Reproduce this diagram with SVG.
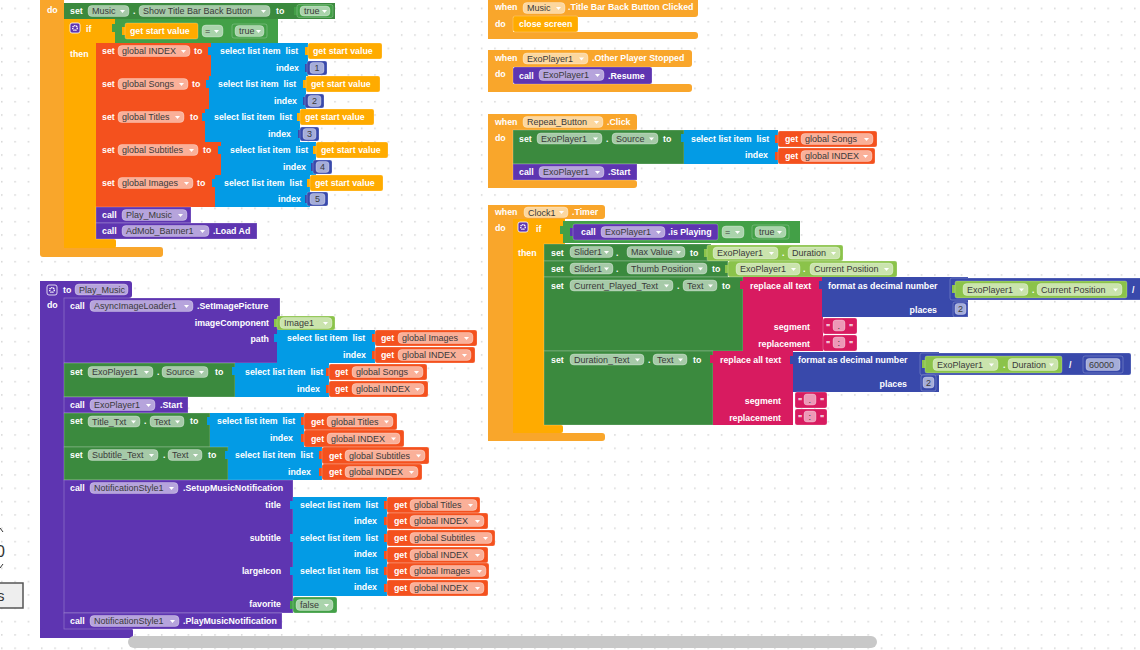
<svg xmlns="http://www.w3.org/2000/svg" width="1140" height="650" viewBox="0 0 1140 650">
<style>
.ev{fill:#F9A62B}.ct{fill:#FFAB00}.st{fill:#3B8A3E}.lg{fill:#43A047}.gt{fill:#8BC34A}.vr{fill:#F4511E}.ls{fill:#039BE5}.mt{fill:#3949AB}.tx{fill:#D81B60}.pr{fill:#5E35B1}
.nb{stroke:#fff;stroke-opacity:.28;stroke-width:.8}
.pl{fill:#fff;fill-opacity:.55;stroke:#fff;stroke-opacity:.4;stroke-width:.7}
text{font-family:"Liberation Sans",Arial,sans-serif;font-size:9px}
.w{fill:#fff;font-weight:bold;font-size:8.8px}
.d{fill:#3a3a3a}
.e{text-anchor:end}
</style>
<defs>
<pattern id="grid" width="13.33" height="13.33" patternUnits="userSpaceOnUse" x="1" y="7.6"><circle cx="0.8" cy="0.8" r="0.8" fill="#cfcfcf"/></pattern>
<path id="ar" d="M0,0h5l-2.5,3z" fill="#fff"/>
<g id="gear"><rect width="10" height="10" rx="2" fill="#5E35B1" stroke="#fff" stroke-width=".8"/><circle cx="5" cy="5" r="2.3" fill="none" stroke="#fff" stroke-width="1.4" stroke-dasharray="1.2 .6"/></g>
</defs>
<rect width="1140" height="650" fill="#fff"/>
<rect width="1140" height="650" fill="url(#grid)"/>

<g id="evt-music-init">
<rect class="ev" x="40" y="-6" width="24" height="258"/>
<rect class="ev" x="40" y="247" width="123" height="10" rx="3"/>
<text class="w" x="47" y="13">do</text>
<g id="set-backbutton">
<rect class="st" x="64" y="3" width="271" height="16"/>
<text class="w" x="70" y="14">set</text>
<rect class="pl" x="88" y="5.5" width="41" height="11" rx="4"/><text class="d" x="92" y="14">Music</text><use href="#ar" x="120" y="10"/>
<text class="w" x="133" y="14">.</text>
<rect class="pl" x="139" y="5.5" width="131" height="11" rx="4"/><text class="d" x="143" y="14">Show Title Bar Back Button</text><use href="#ar" x="261" y="10"/>
<text class="w" x="276" y="14">to</text>
<rect class="lg" x="294" y="7" width="4" height="8"/>
<rect class="lg nb" x="297" y="4.5" width="36" height="13" rx="2"/>
<rect class="pl" x="300" y="6" width="30" height="10" rx="4"/><text class="d" x="304" y="14">true</text><use href="#ar" x="322" y="10"/>
</g>
<g id="if-start">
<rect class="ct" x="64" y="19" width="32" height="229"/>
<rect class="ct" x="64" y="19" width="54" height="24"/>
<rect class="ct" x="64" y="239" width="52" height="9" rx="2"/>
<use href="#gear" x="70" y="23"/>
<text class="w" x="86" y="32">if</text>
<text class="w" x="70" y="57">then</text>
<rect class="lg" x="112" y="24" width="4" height="8"/>
<rect class="lg" x="115" y="19" width="163" height="24"/>
<rect class="ct" x="122" y="27" width="4" height="8"/>
<rect class="ct nb" x="125" y="23" width="73" height="16" rx="2"/><text class="w" x="130" y="34">get start value</text>
<rect class="pl" x="202" y="25" width="21" height="12" rx="4"/><text class="d" x="205" y="34">=</text><use href="#ar" x="214" y="30"/>
<rect class="lg nb" x="232" y="24" width="35" height="14" rx="2"/><rect class="pl" x="235" y="25.5" width="29" height="11" rx="4"/><text class="d" x="239" y="34">true</text><use href="#ar" x="256" y="30"/>
</g>
<g id="set-index">
<rect class="vr" x="96" y="43" width="115" height="33"/>
<text class="w" x="102" y="54">set</text>
<rect class="pl" x="118" y="45.5" width="72" height="11" rx="4"/><text class="d" x="122" y="54">global INDEX</text><use href="#ar" x="181" y="50"/>
<text class="w" x="194" y="54">to</text>
<rect class="ls" x="208" y="47" width="4" height="8"/><rect class="ls" x="211" y="43" width="97" height="33"/>
<text class="w" x="220" y="54" xml:space="preserve">select list item  list</text>
<text class="w e" x="299" y="71">index</text>
<rect class="ct" x="305" y="47" width="4" height="8"/><rect class="ct nb" x="308" y="43" width="74" height="16" rx="2"/><text class="w" x="313" y="54">get start value</text>
<rect class="mt" x="305" y="64" width="4" height="8"/><rect class="mt nb" x="307" y="61" width="20" height="14" rx="2"/><rect class="pl" x="310" y="62.5" width="14" height="11" rx="3"/><text class="d" x="314.5" y="71">1</text>
</g>
<g id="set-songs">
<rect class="vr" x="96" y="76" width="113" height="33"/>
<text class="w" x="102" y="87">set</text>
<rect class="pl" x="118" y="78.5" width="70" height="11" rx="4"/><text class="d" x="122" y="87">global Songs</text><use href="#ar" x="179" y="83"/>
<text class="w" x="192" y="87">to</text>
<rect class="ls" x="206" y="80" width="4" height="8"/><rect class="ls" x="209" y="76" width="97" height="33"/>
<text class="w" x="218" y="87" xml:space="preserve">select list item  list</text>
<text class="w e" x="297" y="104">index</text>
<rect class="ct" x="303" y="80" width="4" height="8"/><rect class="ct nb" x="306" y="76" width="74" height="16" rx="2"/><text class="w" x="311" y="87">get start value</text>
<rect class="mt" x="303" y="97" width="4" height="8"/><rect class="mt nb" x="305" y="94" width="19" height="14" rx="2"/><rect class="pl" x="308" y="95.5" width="13" height="11" rx="3"/><text class="d" x="312" y="104">2</text>
</g>
<g id="set-titles">
<rect class="vr" x="96" y="109" width="109" height="33"/>
<text class="w" x="102" y="120">set</text>
<rect class="pl" x="118" y="111.5" width="66" height="11" rx="4"/><text class="d" x="122" y="120">global Titles</text><use href="#ar" x="175" y="116"/>
<text class="w" x="190" y="120">to</text>
<rect class="ls" x="202" y="113" width="4" height="8"/><rect class="ls" x="205" y="109" width="95" height="33"/>
<text class="w" x="214" y="120" xml:space="preserve">select list item  list</text>
<text class="w e" x="291" y="137">index</text>
<rect class="ct" x="297" y="113" width="4" height="8"/><rect class="ct nb" x="300" y="109" width="74" height="16" rx="2"/><text class="w" x="305" y="120">get start value</text>
<rect class="mt" x="298" y="130" width="4" height="8"/><rect class="mt nb" x="300" y="127" width="19" height="14" rx="2"/><rect class="pl" x="303" y="128.5" width="13" height="11" rx="3"/><text class="d" x="307" y="137">3</text>
</g>
<g id="set-subtitles">
<rect class="vr" x="96" y="142" width="125" height="33"/>
<text class="w" x="102" y="153">set</text>
<rect class="pl" x="118" y="144.5" width="80" height="11" rx="4"/><text class="d" x="122" y="153">global Subtitles</text><use href="#ar" x="189" y="149"/>
<text class="w" x="203" y="153">to</text>
<rect class="ls" x="218" y="146" width="4" height="8"/><rect class="ls" x="221" y="142" width="95" height="33"/>
<text class="w" x="230" y="153" xml:space="preserve">select list item  list</text>
<text class="w e" x="306" y="170">index</text>
<rect class="ct" x="313" y="146" width="4" height="8"/><rect class="ct nb" x="316" y="142" width="72" height="16" rx="2"/><text class="w" x="321" y="153">get start value</text>
<rect class="mt" x="311" y="163" width="4" height="8"/><rect class="mt nb" x="313" y="160" width="19" height="14" rx="2"/><rect class="pl" x="316" y="161.5" width="13" height="11" rx="3"/><text class="d" x="320" y="170">4</text>
</g>
<g id="set-images">
<rect class="vr" x="96" y="175" width="119" height="32"/>
<text class="w" x="102" y="186">set</text>
<rect class="pl" x="118" y="177.5" width="75" height="11" rx="4"/><text class="d" x="122" y="186">global Images</text><use href="#ar" x="184" y="182"/>
<text class="w" x="197" y="186">to</text>
<rect class="ls" x="212" y="179" width="4" height="8"/><rect class="ls" x="215" y="175" width="95" height="32"/>
<text class="w" x="224" y="186" xml:space="preserve">select list item  list</text>
<text class="w e" x="301" y="202">index</text>
<rect class="ct" x="307" y="179" width="4" height="8"/><rect class="ct nb" x="310" y="175" width="73" height="16" rx="2"/><text class="w" x="315" y="186">get start value</text>
<rect class="mt" x="305" y="195" width="4" height="8"/><rect class="mt nb" x="307" y="192" width="21" height="14" rx="2"/><rect class="pl" x="310" y="193.5" width="15" height="11" rx="3"/><text class="d" x="315" y="202">5</text>
</g>
<g id="call-play-music">
<rect class="pr nb" x="96" y="207" width="95" height="16"/>
<text class="w" x="102" y="218">call</text>
<rect class="pl" x="122" y="209.5" width="65" height="11" rx="4"/><text class="d" x="126" y="218">Play_Music</text><use href="#ar" x="178" y="214"/>
</g>
<g id="call-admob">
<rect class="pr nb" x="96" y="223" width="161" height="16"/>
<text class="w" x="102" y="234">call</text>
<rect class="pl" x="122" y="225.5" width="87" height="11" rx="4"/><text class="d" x="126" y="234">AdMob_Banner1</text><use href="#ar" x="200" y="230"/>
<text class="w" x="213" y="234">.Load Ad</text>
</g>
</g>

<g id="proc-play-music">
<rect class="pr" x="40" y="281" width="92" height="17" rx="3"/>
<rect class="pr" x="40" y="281" width="24" height="357"/>
<rect class="pr" x="40" y="628" width="93" height="10" rx="3"/>
<use href="#gear" x="47" y="285"/>
<text class="w" x="63" y="293">to</text>
<rect class="pl" x="75" y="284" width="53" height="11" rx="4"/><text class="d" x="79" y="292.5">Play_Music</text>
<text class="w" x="47" y="308">do</text>
<g id="call-setimage">
<rect class="pr nb" x="64" y="298" width="216" height="65"/>
<text class="w" x="70" y="309">call</text>
<rect class="pl" x="90" y="300.5" width="103" height="11" rx="4"/><text class="d" x="94" y="309">AsyncImageLoader1</text><use href="#ar" x="184" y="305"/>
<text class="w" x="197" y="309">.SetImagePicture</text>
<text class="w e" x="269" y="326">imageComponent</text>
<text class="w e" x="269" y="342">path</text>
<rect class="gt" x="274" y="319" width="4" height="8"/><rect class="gt nb" x="277" y="316" width="58" height="14" rx="2"/>
<rect class="pl" x="280" y="317.5" width="52" height="11" rx="4"/><text class="d" x="284" y="326">Image1</text><use href="#ar" x="323" y="322"/>
<rect class="ls" x="274" y="334" width="4" height="8"/><rect class="ls" x="277" y="330" width="98" height="33"/>
<text class="w" x="287" y="341" xml:space="preserve">select list item  list</text>
<text class="w e" x="366" y="358">index</text>
<rect class="vr" x="372" y="334" width="4" height="8"/><rect class="vr nb" x="375" y="330" width="102" height="16" rx="2"/>
<text class="w" x="381" y="341">get</text><rect class="pl" x="398" y="332.5" width="75" height="11" rx="4"/><text class="d" x="402" y="341">global Images</text><use href="#ar" x="464" y="337"/>
<rect class="vr" x="372" y="351" width="4" height="8"/><rect class="vr nb" x="375" y="347" width="100" height="16" rx="2"/>
<text class="w" x="381" y="358">get</text><rect class="pl" x="398" y="349.5" width="73" height="11" rx="4"/><text class="d" x="402" y="358">global INDEX</text><use href="#ar" x="462" y="354"/>
</g>
<g id="set-source">
<rect class="st nb" x="64" y="363" width="171" height="34"/>
<text class="w" x="70" y="375">set</text>
<rect class="pl" x="88" y="366.5" width="65" height="11" rx="4"/><text class="d" x="92" y="375">ExoPlayer1</text><use href="#ar" x="144" y="371"/>
<text class="w" x="157" y="375">.</text>
<rect class="pl" x="162" y="366.5" width="46" height="11" rx="4"/><text class="d" x="166" y="375">Source</text><use href="#ar" x="199" y="371"/>
<text class="w" x="215" y="375">to</text>
<rect class="ls" x="232" y="367" width="4" height="8"/><rect class="ls" x="235" y="363" width="94" height="34"/>
<text class="w" x="245" y="375" xml:space="preserve">select list item  list</text>
<text class="w e" x="320" y="392">index</text>
<rect class="vr" x="326" y="368" width="4" height="8"/><rect class="vr nb" x="329" y="364" width="98" height="16" rx="2"/>
<text class="w" x="335" y="375">get</text><rect class="pl" x="352" y="366.5" width="71" height="11" rx="4"/><text class="d" x="356" y="375">global Songs</text><use href="#ar" x="414" y="371"/>
<rect class="vr" x="326" y="385" width="4" height="8"/><rect class="vr nb" x="329" y="381" width="99" height="16" rx="2"/>
<text class="w" x="335" y="392">get</text><rect class="pl" x="352" y="383.5" width="72" height="11" rx="4"/><text class="d" x="356" y="392">global INDEX</text><use href="#ar" x="415" y="388"/>
</g>
<g id="call-start-1">
<rect class="pr nb" x="64" y="397" width="124" height="16"/>
<text class="w" x="70" y="408">call</text>
<rect class="pl" x="90" y="399.5" width="65" height="11" rx="4"/><text class="d" x="94" y="408">ExoPlayer1</text><use href="#ar" x="146" y="404"/>
<text class="w" x="160" y="408">.Start</text>
</g>
<g id="set-title-text">
<rect class="st nb" x="64" y="413" width="146" height="34"/>
<text class="w" x="70" y="424">set</text>
<rect class="pl" x="88" y="416" width="52" height="11" rx="4"/><text class="d" x="92" y="424.5">Title_Txt</text><use href="#ar" x="131" y="420.5"/>
<text class="w" x="144" y="424">.</text>
<rect class="pl" x="150" y="416" width="34" height="11" rx="4"/><text class="d" x="154" y="424.5">Text</text><use href="#ar" x="175" y="420.5"/>
<text class="w" x="190" y="424">to</text>
<rect class="ls" x="207" y="417" width="4" height="8"/><rect class="ls" x="210" y="413" width="94" height="34"/>
<text class="w" x="217" y="424" xml:space="preserve">select list item  list</text>
<text class="w e" x="293" y="441">index</text>
<rect class="vr" x="301" y="417" width="4" height="8"/><rect class="vr nb" x="304" y="413" width="93" height="17" rx="2"/>
<text class="w" x="311" y="424.5">get</text><rect class="pl" x="327" y="416" width="66" height="11" rx="4"/><text class="d" x="331" y="424.5">global Titles</text><use href="#ar" x="384" y="420.5"/>
<rect class="vr" x="301" y="434" width="4" height="8"/><rect class="vr nb" x="304" y="430" width="100" height="17" rx="2"/>
<text class="w" x="311" y="441.5">get</text><rect class="pl" x="327" y="433" width="73" height="11" rx="4"/><text class="d" x="331" y="441.5">global INDEX</text><use href="#ar" x="391" y="437.5"/>
</g>
<g id="set-subtitle-text">
<rect class="st nb" x="64" y="447" width="164" height="33"/>
<text class="w" x="70" y="458">set</text>
<rect class="pl" x="88" y="449.5" width="70" height="11" rx="4"/><text class="d" x="92" y="458">Subtitle_Text</text><use href="#ar" x="149" y="454"/>
<text class="w" x="163" y="458">.</text>
<rect class="pl" x="168" y="449.5" width="34" height="11" rx="4"/><text class="d" x="172" y="458">Text</text><use href="#ar" x="193" y="454"/>
<text class="w" x="208" y="458">to</text>
<rect class="ls" x="225" y="451" width="4" height="8"/><rect class="ls" x="228" y="447" width="94" height="33"/>
<text class="w" x="235" y="458" xml:space="preserve">select list item  list</text>
<text class="w e" x="311" y="475">index</text>
<rect class="vr" x="319" y="451" width="4" height="8"/><rect class="vr nb" x="322" y="447" width="107" height="17" rx="2"/>
<text class="w" x="329" y="458.5">get</text><rect class="pl" x="345" y="450" width="80" height="11" rx="4"/><text class="d" x="349" y="458.5">global Subtitles</text><use href="#ar" x="416" y="454.5"/>
<rect class="vr" x="319" y="468" width="4" height="8"/><rect class="vr nb" x="322" y="464" width="100" height="16" rx="2"/>
<text class="w" x="329" y="475">get</text><rect class="pl" x="345" y="466.5" width="73" height="11" rx="4"/><text class="d" x="349" y="475">global INDEX</text><use href="#ar" x="409" y="471"/>
</g>
<g id="call-setup-notification">
<rect class="pr nb" x="64" y="480" width="229" height="133"/>
<text class="w" x="70" y="491">call</text>
<rect class="pl" x="90" y="482.5" width="88" height="11" rx="4"/><text class="d" x="94" y="491">NotificationStyle1</text><use href="#ar" x="169" y="487"/>
<text class="w" x="183" y="491">.SetupMusicNotification</text>
<text class="w e" x="281" y="508">title</text>
<text class="w e" x="281" y="541">subtitle</text>
<text class="w e" x="281" y="574">largeIcon</text>
<text class="w e" x="281" y="607">favorite</text>
<rect class="ls" x="290" y="501" width="4" height="8"/><rect class="ls" x="293" y="497" width="94" height="33"/>
<text class="w" x="300" y="508" xml:space="preserve">select list item  list</text><text class="w e" x="377" y="524">index</text>
<rect class="ls" x="290" y="534" width="4" height="8"/><rect class="ls" x="293" y="530" width="94" height="33"/>
<text class="w" x="300" y="541" xml:space="preserve">select list item  list</text><text class="w e" x="377" y="557">index</text>
<rect class="ls" x="290" y="567" width="4" height="8"/><rect class="ls" x="293" y="563" width="94" height="33"/>
<text class="w" x="300" y="574" xml:space="preserve">select list item  list</text><text class="w e" x="377" y="590">index</text>
<rect class="vr" x="384" y="501" width="4" height="8"/><rect class="vr nb" x="387" y="497" width="93" height="16" rx="2"/>
<text class="w" x="394" y="508">get</text><rect class="pl" x="410" y="499.5" width="67" height="11" rx="4"/><text class="d" x="414" y="508">global Titles</text><use href="#ar" x="468" y="504"/>
<rect class="vr" x="384" y="517" width="4" height="8"/><rect class="vr nb" x="387" y="513" width="101" height="16" rx="2"/>
<text class="w" x="394" y="524">get</text><rect class="pl" x="410" y="515.5" width="74" height="11" rx="4"/><text class="d" x="414" y="524">global INDEX</text><use href="#ar" x="475" y="520"/>
<rect class="vr" x="384" y="534" width="4" height="8"/><rect class="vr nb" x="387" y="530" width="108" height="16" rx="2"/>
<text class="w" x="394" y="541">get</text><rect class="pl" x="410" y="532.5" width="82" height="11" rx="4"/><text class="d" x="414" y="541">global Subtitles</text><use href="#ar" x="483" y="537"/>
<rect class="vr" x="384" y="551" width="4" height="8"/><rect class="vr nb" x="387" y="547" width="101" height="16" rx="2"/>
<text class="w" x="394" y="558">get</text><rect class="pl" x="410" y="549.5" width="74" height="11" rx="4"/><text class="d" x="414" y="558">global INDEX</text><use href="#ar" x="475" y="554"/>
<rect class="vr" x="384" y="567" width="4" height="8"/><rect class="vr nb" x="387" y="563" width="102" height="16" rx="2"/>
<text class="w" x="394" y="574">get</text><rect class="pl" x="410" y="565.5" width="76" height="11" rx="4"/><text class="d" x="414" y="574">global Images</text><use href="#ar" x="477" y="570"/>
<rect class="vr" x="384" y="584" width="4" height="8"/><rect class="vr nb" x="387" y="580" width="101" height="16" rx="2"/>
<text class="w" x="394" y="591">get</text><rect class="pl" x="410" y="582.5" width="74" height="11" rx="4"/><text class="d" x="414" y="591">global INDEX</text><use href="#ar" x="475" y="587"/>
<rect class="lg" x="290" y="601" width="4" height="8"/><rect class="lg nb" x="293" y="597" width="44" height="16" rx="2"/>
<rect class="pl" x="296" y="599.5" width="37" height="11" rx="4"/><text class="d" x="300" y="608">false</text><use href="#ar" x="324" y="604"/>
</g>
<g id="call-play-notification">
<rect class="pr nb" x="64" y="613" width="218" height="16"/>
<text class="w" x="70" y="624">call</text>
<rect class="pl" x="90" y="615.5" width="89" height="11" rx="4"/><text class="d" x="94" y="624">NotificationStyle1</text><use href="#ar" x="170" y="620"/>
<text class="w" x="183" y="624">.PlayMusicNotification</text>
</g>
</g>

<g id="evt-back-clicked">
<rect class="ev" x="488" y="-3" width="210" height="20" rx="3"/>
<rect class="ev" x="488" y="-3" width="25" height="42"/>
<rect class="ev" x="488" y="32" width="210" height="7" rx="3"/>
<text class="w" x="495" y="10">when</text>
<rect class="pl" x="523" y="2.5" width="42" height="11" rx="4"/><text class="d" x="527" y="11">Music</text><use href="#ar" x="556" y="7"/>
<text class="w" x="568" y="10">.Title Bar Back Button Clicked</text>
<text class="w" x="495" y="27">do</text>
<rect class="ct nb" x="513" y="16" width="65" height="16" rx="2"/><text class="w" x="519" y="27">close screen</text>
</g>

<g id="evt-other-stopped">
<rect class="ev" x="488" y="50" width="204" height="17" rx="3"/>
<rect class="ev" x="488" y="50" width="25" height="42"/>
<rect class="ev" x="488" y="84" width="204" height="8" rx="3"/>
<text class="w" x="495" y="61">when</text>
<rect class="pl" x="523" y="53" width="65" height="11" rx="4"/><text class="d" x="527" y="61.5">ExoPlayer1</text><use href="#ar" x="579" y="57.5"/>
<text class="w" x="592" y="61">.Other Player Stopped</text>
<text class="w" x="495" y="77">do</text>
<rect class="pr nb" x="513" y="67" width="139" height="17" rx="2"/>
<text class="w" x="519" y="78.5">call</text>
<rect class="pl" x="539" y="69.5" width="65" height="11" rx="4"/><text class="d" x="543" y="78">ExoPlayer1</text><use href="#ar" x="595" y="74"/>
<text class="w" x="608" y="78.5">.Resume</text>
</g>

<g id="evt-repeat-click">
<rect class="ev" x="488" y="114" width="149" height="17" rx="3"/>
<rect class="ev" x="488" y="114" width="25" height="74"/>
<rect class="ev" x="488" y="180" width="149" height="8" rx="3"/>
<text class="w" x="495" y="125">when</text>
<rect class="pl" x="523" y="116.5" width="80" height="11" rx="4"/><text class="d" x="527" y="125">Repeat_Button</text><use href="#ar" x="594" y="121"/>
<text class="w" x="607" y="125">.Click</text>
<text class="w" x="495" y="141">do</text>
<rect class="st nb" x="513" y="130" width="171" height="34"/>
<text class="w" x="519" y="141.5">set</text>
<rect class="pl" x="537" y="133" width="65" height="11" rx="4"/><text class="d" x="541" y="141.5">ExoPlayer1</text><use href="#ar" x="593" y="137.5"/>
<text class="w" x="606" y="141.5">.</text>
<rect class="pl" x="612" y="133" width="46" height="11" rx="4"/><text class="d" x="616" y="141.5">Source</text><use href="#ar" x="649" y="137.5"/>
<text class="w" x="663" y="141.5">to</text>
<rect class="ls" x="681" y="134" width="4" height="8"/><rect class="ls" x="684" y="130" width="94" height="34"/>
<text class="w" x="691" y="141.5" xml:space="preserve">select list item  list</text>
<text class="w e" x="768" y="158">index</text>
<rect class="vr" x="775" y="135" width="4" height="8"/><rect class="vr nb" x="778" y="131" width="99" height="16" rx="2"/>
<text class="w" x="785" y="142">get</text><rect class="pl" x="801" y="133.5" width="72" height="11" rx="4"/><text class="d" x="805" y="142">global Songs</text><use href="#ar" x="864" y="138"/>
<rect class="vr" x="775" y="152" width="4" height="8"/><rect class="vr nb" x="778" y="148" width="97" height="16" rx="2"/>
<text class="w" x="785" y="159">get</text><rect class="pl" x="801" y="150.5" width="71" height="11" rx="4"/><text class="d" x="805" y="159">global INDEX</text><use href="#ar" x="863" y="155"/>
<rect class="pr nb" x="513" y="164" width="124" height="16"/>
<text class="w" x="519" y="175">call</text>
<rect class="pl" x="539" y="166.5" width="65" height="11" rx="4"/><text class="d" x="543" y="175">ExoPlayer1</text><use href="#ar" x="595" y="171"/>
<text class="w" x="608" y="175">.Start</text>
</g>

<g id="evt-clock-timer">
<rect class="ev" x="488" y="205" width="117" height="14" rx="3"/>
<rect class="ev" x="488" y="205" width="25" height="236"/>
<rect class="ev" x="488" y="433" width="117" height="8" rx="3"/>
<text class="w" x="495" y="215">when</text>
<rect class="pl" x="524" y="207" width="44" height="10.5" rx="4"/><text class="d" x="528" y="215.5">Clock1</text><use href="#ar" x="559" y="211"/>
<text class="w" x="572" y="215">.Timer</text>
<text class="w" x="495" y="231">do</text>
<g id="if-playing">
<rect class="ct" x="513" y="219" width="32" height="214"/>
<rect class="ct" x="513" y="219" width="52" height="25"/>
<rect class="ct" x="513" y="425" width="50" height="8" rx="2"/>
<use href="#gear" x="518" y="222"/>
<text class="w" x="536" y="232">if</text>
<text class="w" x="518" y="256">then</text>
<rect class="lg" x="560" y="226" width="4" height="8"/><rect class="lg" x="563" y="221" width="237" height="22"/>
<rect class="pr" x="570" y="228" width="4" height="8"/><rect class="pr nb" x="573" y="224" width="145" height="16" rx="2"/>
<text class="w" x="581" y="235">call</text>
<rect class="pl" x="601" y="226.5" width="64" height="11" rx="4"/><text class="d" x="605" y="235">ExoPlayer1</text><use href="#ar" x="656" y="231"/>
<text class="w" x="668" y="235">.is Playing</text>
<rect class="pl" x="722" y="226" width="22" height="12" rx="4"/><text class="d" x="725" y="235">=</text><use href="#ar" x="735" y="231"/>
<rect class="lg nb" x="752" y="225" width="37" height="14" rx="2"/><rect class="pl" x="755" y="226.5" width="31" height="11" rx="4"/><text class="d" x="759" y="235">true</text><use href="#ar" x="777" y="231"/>
</g>
<g id="set-max-value">
<rect class="st nb" x="544" y="244" width="167" height="17"/>
<text class="w" x="551" y="255.5">set</text>
<rect class="pl" x="570" y="246.5" width="43" height="11" rx="4"/><text class="d" x="574" y="255">Slider1</text><use href="#ar" x="604" y="251"/>
<text class="w" x="616" y="255.5">.</text>
<rect class="pl" x="627" y="246.5" width="58" height="11" rx="4"/><text class="d" x="631" y="255">Max Value</text><use href="#ar" x="676" y="251"/>
<text class="w" x="690" y="255.5">to</text>
<rect class="gt" x="704" y="249" width="4" height="8"/><rect class="gt nb" x="707" y="245" width="136" height="16" rx="2"/>
<rect class="pl" x="713" y="247" width="65" height="12" rx="4"/><text class="d" x="717" y="256">ExoPlayer1</text><use href="#ar" x="769" y="252"/>
<text class="w" x="782" y="256">.</text>
<rect class="pl" x="788" y="247" width="52" height="12" rx="4"/><text class="d" x="792" y="256">Duration</text><use href="#ar" x="831" y="252"/>
</g>
<g id="set-thumb-position">
<rect class="st nb" x="544" y="261" width="184" height="16"/>
<text class="w" x="551" y="272">set</text>
<rect class="pl" x="570" y="263" width="43" height="11" rx="4"/><text class="d" x="574" y="271.5">Slider1</text><use href="#ar" x="604" y="267.5"/>
<text class="w" x="616" y="272">.</text>
<rect class="pl" x="627" y="263" width="80" height="11" rx="4"/><text class="d" x="631" y="271.5">Thumb Position</text><use href="#ar" x="698" y="267.5"/>
<text class="w" x="712" y="272">to</text>
<rect class="gt" x="725" y="265" width="4" height="8"/><rect class="gt nb" x="728" y="261" width="169" height="16" rx="2"/>
<rect class="pl" x="736" y="263" width="64" height="12" rx="4"/><text class="d" x="740" y="272">ExoPlayer1</text><use href="#ar" x="791" y="268"/>
<text class="w" x="803" y="272">.</text>
<rect class="pl" x="810" y="263" width="83" height="12" rx="4"/><text class="d" x="814" y="272">Current Position</text><use href="#ar" x="884" y="268"/>
</g>
<g id="set-current-played">
<rect class="st nb" x="544" y="277" width="199" height="74"/>
<text class="w" x="551" y="289">set</text>
<rect class="pl" x="570" y="280" width="103" height="11" rx="4"/><text class="d" x="574" y="288.5">Current_Played_Text</text><use href="#ar" x="664" y="284.5"/>
<text class="w" x="677" y="289">.</text>
<rect class="pl" x="683" y="280" width="34" height="11" rx="4"/><text class="d" x="687" y="288.5">Text</text><use href="#ar" x="708" y="284.5"/>
<text class="w" x="722" y="289">to</text>
<rect class="tx" x="740" y="281" width="4" height="8"/><rect class="tx" x="743" y="277" width="80" height="74"/>
<text class="w" x="750" y="289">replace all text</text>
<text class="w e" x="810" y="330">segment</text>
<text class="w e" x="810" y="347">replacement</text>
<rect class="mt" x="819" y="281" width="4" height="8"/><rect class="mt" x="822" y="277" width="146" height="40"/>
<text class="w" x="828" y="289">format as decimal number</text>
<text class="w e" x="937" y="313">places</text>
<rect class="mt" x="947" y="282" width="4" height="8"/><rect class="mt nb" x="950" y="278" width="200" height="22" rx="2"/>
<rect class="gt" x="952" y="285" width="4" height="8"/><rect class="gt nb" x="955" y="281" width="172" height="17" rx="2"/>
<rect class="pl" x="963" y="283.5" width="65" height="12" rx="4"/><text class="d" x="967" y="292.5">ExoPlayer1</text><use href="#ar" x="1019" y="288.5"/>
<text class="w" x="1032" y="292.5">.</text>
<rect class="pl" x="1037" y="283.5" width="85" height="12" rx="4"/><text class="d" x="1041" y="292.5">Current Position</text><use href="#ar" x="1113" y="288.5"/>
<text class="w" x="1132" y="293">/</text>
<rect class="mt nb" x="953" y="302" width="15" height="15" rx="2"/><rect class="pl" x="955" y="303.5" width="11" height="11" rx="3"/><text class="d" x="958" y="312">2</text>
<rect class="tx nb" x="823" y="318" width="34" height="16" rx="2"/><text class="w" x="826" y="330">"</text><rect class="pl" x="833" y="320" width="12" height="11" rx="3"/><text class="d" x="837.5" y="329">.</text><text class="w" x="849" y="330">"</text>
<rect class="tx nb" x="823" y="335" width="34" height="16" rx="2"/><text class="w" x="826" y="347">"</text><rect class="pl" x="833" y="337" width="12" height="11" rx="3"/><text class="d" x="837.5" y="346">:</text><text class="w" x="849" y="347">"</text>
</g>
<g id="set-duration-text">
<rect class="st nb" x="544" y="351" width="169" height="74"/>
<text class="w" x="551" y="363">set</text>
<rect class="pl" x="570" y="354" width="74" height="11" rx="4"/><text class="d" x="574" y="362.5">Duration_Text</text><use href="#ar" x="635" y="358.5"/>
<text class="w" x="648" y="363">.</text>
<rect class="pl" x="653" y="354" width="34" height="11" rx="4"/><text class="d" x="657" y="362.5">Text</text><use href="#ar" x="678" y="358.5"/>
<text class="w" x="693" y="363">to</text>
<rect class="tx" x="710" y="355" width="4" height="8"/><rect class="tx" x="713" y="351" width="80" height="74"/>
<text class="w" x="720" y="363">replace all text</text>
<text class="w e" x="781" y="404">segment</text>
<text class="w e" x="781" y="421">replacement</text>
<rect class="mt" x="790" y="356" width="4" height="8"/><rect class="mt" x="793" y="352" width="146" height="40"/>
<text class="w" x="798" y="363">format as decimal number</text>
<text class="w e" x="907" y="387">places</text>
<rect class="mt" x="917" y="357" width="4" height="8"/><rect class="mt nb" x="920" y="353" width="211" height="22" rx="2"/>
<rect class="gt" x="922" y="360" width="4" height="8"/><rect class="gt nb" x="925" y="356" width="137" height="17" rx="2"/>
<rect class="pl" x="933" y="358.5" width="65" height="12" rx="4"/><text class="d" x="937" y="367.5">ExoPlayer1</text><use href="#ar" x="989" y="363.5"/>
<text class="w" x="1003" y="367.5">.</text>
<rect class="pl" x="1008" y="358.5" width="50" height="12" rx="4"/><text class="d" x="1012" y="367.5">Duration</text><use href="#ar" x="1049" y="363.5"/>
<text class="w" x="1069" y="368">/</text>
<rect class="mt nb" x="1083" y="356" width="40" height="17" rx="2"/><rect class="pl" x="1086" y="358.5" width="34" height="12" rx="3"/><text class="d" x="1089" y="367.5">60000</text>
<rect class="mt nb" x="921" y="375" width="15" height="16" rx="2"/><rect class="pl" x="923" y="377" width="11" height="11" rx="3"/><text class="d" x="926" y="385.5">2</text>
<rect class="tx nb" x="795" y="392" width="32" height="16" rx="2"/><text class="w" x="798" y="404">"</text><rect class="pl" x="804" y="394" width="12" height="11" rx="3"/><text class="d" x="808.5" y="403">.</text><text class="w" x="820" y="404">"</text>
<rect class="tx nb" x="795" y="409" width="32" height="16" rx="2"/><text class="w" x="798" y="421">"</text><rect class="pl" x="804" y="411" width="12" height="11" rx="3"/><text class="d" x="808.5" y="420">:</text><text class="w" x="820" y="421">"</text>
</g>
</g>

<g id="edge-fragments">
<path d="M0,528 L3,532" stroke="#333" stroke-width="1"/>
<text x="-4" y="557" style="font-size:16px;fill:#333">0</text>
<path d="M3,564 L0,568" stroke="#333" stroke-width="1"/>
<rect x="-10" y="583" width="33" height="25" fill="#eee" stroke="#555" stroke-width="1.5"/>
<text x="-3" y="601" style="font-size:15px;fill:#333">s</text>
</g>
<rect id="scrollbar" x="128" y="636" width="749" height="12" rx="6" fill="#c8c8c8"/>
</svg>
